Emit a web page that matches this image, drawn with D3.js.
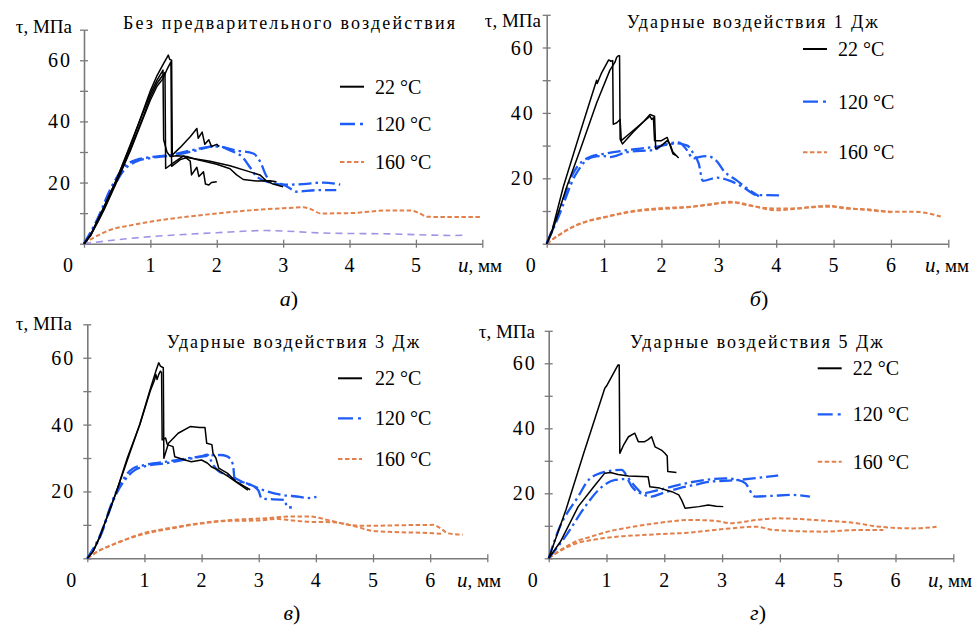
<!DOCTYPE html>
<html>
<head>
<meta charset="utf-8">
<script src="https://cdn.jsdelivr.net/npm/d3@7"></script>
<style>
  html, body { margin: 0; padding: 0; background: #fff; }
  svg text { font-family: "Liberation Serif", "Times New Roman", "DejaVu Serif", serif; }
</style>
</head>
<body>
<svg id="chart" width="978" height="625"></svg>
<script>
// ---- shared labels ----
const yTicks = [0, 10, 20, 30, 40, 50, 60, 70];
const yTickLabels = [20, 40, 60];
const tempLabels = ["22 °C", "120 °C", "160 °C"];
const panelTitles = [
  "Без предварительного воздействия",
  "Ударные воздействия 1 Дж",
  "Ударные воздействия 3 Дж",
  "Ударные воздействия 5 Дж"
];
const panelLetters = ["а", "б", "в", "г"];
const xMax = [6, 7, 7, 7];

// ---- (а) no preliminary impact: [u, мм ; τ, МПа] ----
const a22_1 = [[0,0],[0.1,3],[0.3,12],[0.5,21.5],[0.7,32],[0.9,44],[1.0,50],[1.1,55],[1.2,59],[1.27,61.7],[1.29,60.3],[1.32,60],[1.33,29],[1.45,31.5],[1.6,35],[1.7,37.7],[1.72,34.5],[1.78,36.5],[1.82,32.5],[1.88,34],[1.92,31.8],[2.0,32.5],[2.03,31.8]];
const a22_2 = [[0,0],[0.1,2.8],[0.3,11.5],[0.5,21],[0.7,31],[0.9,42],[1.0,48],[1.1,52.5],[1.2,55.5],[1.22,56],[1.23,24.6],[1.35,26.5],[1.5,28.7],[1.6,27],[1.62,22.5],[1.7,25],[1.73,22],[1.8,23.5],[1.83,19.5],[1.88,19.2],[1.92,20],[2.0,20.3]];
const a22_3 = [[0,0],[0.1,2.8],[0.3,12],[0.5,21.5],[0.7,32.5],[0.9,43.5],[1.0,49],[1.1,53.5],[1.19,56.8],[1.2,34],[1.25,30],[1.3,28.5],[1.4,28.8],[1.55,28.5],[1.7,27.5],[2.0,26],[2.2,24.5],[2.3,22.5],[2.4,21],[2.6,20.5],[2.8,20.6],[2.9,20.3]];
const a22_4 = [[0,0],[0.1,2.6],[0.3,11],[0.5,20.5],[0.7,30.5],[0.9,41.5],[1.0,47],[1.1,51.5],[1.19,54],[1.25,57],[1.31,59.5],[1.32,25.3],[1.45,27.5],[1.55,28.2],[1.9,27],[2.2,25.5],[2.5,23.5],[2.65,22.5],[2.75,20.5],[2.85,19.5],[3.0,18.6]];
const a120_1 = [[0,0],[0.2,8],[0.4,18],[0.6,25],[0.8,27.5],[1.0,28.3],[1.3,29],[1.6,30.5],[2.0,31.8],[2.3,30.5],[2.55,29.5],[2.65,27],[2.75,22],[2.85,19.8],[3.0,19.3],[3.3,19.5],[3.6,20],[3.86,19.3]];
const a120_2 = [[0,0],[0.2,7],[0.4,16.5],[0.6,24],[0.8,27],[1.0,28],[1.3,28.8],[1.6,30],[2.0,32],[2.2,30.5],[2.4,28],[2.5,25],[2.6,22],[2.8,20],[3.0,19.3],[3.15,17.5],[3.2,17],[3.5,17.5],[3.8,17.5]];
const a160_1 = [[0,0],[0.15,2],[0.39,4.5],[0.7,6],[1.0,7.2],[1.5,8.7],[2.0,9.9],[2.5,10.9],[3.0,11.6],[3.3,11.9],[3.45,11],[3.56,9.9],[4.0,10],[4.6,10.9],[4.9,10.9],[5.05,10],[5.17,8.8],[5.6,8.7],[6.0,8.7]];
const a160_2 = [[0,0],[0.5,1.3],[1.0,2.3],[1.5,3],[2.0,3.6],[2.75,4.3],[3.6,3.5],[4.6,3.2],[5.6,2.7],[5.77,2.8]];

// ---- (б) impact 1 J ----
const b22_1 = [[0,0],[0.1,4.5],[0.29,17.4],[0.6,35],[0.87,50],[0.88,49],[0.95,52],[1.08,56.2],[1.12,55.8],[1.15,56],[1.16,36.5],[1.22,37],[1.28,38],[1.3,31.5],[1.4,33],[1.6,36],[1.8,39],[1.83,38],[1.86,38.5],[1.88,31.5],[2.0,31.5],[2.1,32.5],[2.15,30],[2.2,27.5],[2.25,27]];
const b22_2 = [[0,0],[0.1,3.8],[0.35,17.4],[0.6,29.5],[0.87,43],[1.1,53],[1.19,55.5],[1.22,57],[1.25,57.5],[1.27,57.5],[1.28,32],[1.32,30.5],[1.5,34],[1.7,37.5],[1.8,39.5],[1.88,39],[1.9,29],[2.0,30],[2.1,31.5],[2.15,30.5],[2.2,28],[2.3,26.2]];
const b120_1 = [[0,0],[0.2,9],[0.46,21.5],[0.76,26.6],[1.0,27.5],[1.35,28.5],[1.92,29.7],[2.27,30.7],[2.45,30],[2.56,27.5],[2.65,24.5],[2.72,19.2],[2.97,20.2],[3.2,19.2],[3.45,17],[3.66,14.9],[4.05,14.8]];
const b120_2 = [[0,0],[0.2,8],[0.5,21],[0.8,26.5],[1.0,26.8],[1.1,26.5],[1.4,28],[1.9,28.8],[2.0,30],[2.3,31],[2.45,28.5],[2.55,26],[2.65,26.5],[2.8,26.8],[2.95,25.5],[3.1,22],[3.3,19.5],[3.5,16.8],[3.7,14.5]];
const b160_1 = [[0,0],[0.2,2.5],[0.46,5.2],[0.76,7.2],[1.05,8.3],[1.34,9.5],[1.92,10.8],[2.5,11.3],[2.79,11.8],[3.2,12.8],[3.49,11.8],[3.95,10.8],[4.3,10.8],[4.8,11.3],[5.0,11.3],[5.4,10.6],[6.0,9.8],[6.4,9.8],[6.87,8.3]];
const b160_2 = [[0,0],[0.2,2.5],[0.5,5.5],[1.0,8.0],[1.5,9.8],[2.0,10.6],[2.5,11.2],[3.0,12.4],[3.3,12.6],[3.6,11.5],[4.0,10.2],[4.4,10.8],[4.9,11.6],[5.2,10.8],[5.6,10.5],[6.0,9.6]];

// ---- (в) impact 3 J ----
const c22_1 = [[0,0],[0.1,2],[0.22,6.5],[0.51,19.9],[0.7,30],[0.92,40],[1.1,50],[1.18,53.5],[1.2,55],[1.22,53.5],[1.25,55],[1.28,56],[1.3,55.5],[1.31,35.4],[1.37,36],[1.4,34],[1.5,33.4],[1.53,30.4],[1.71,29.4],[1.82,28.9],[2.0,29.4],[2.1,28.5],[2.17,27.4],[2.29,26.4],[2.47,24.4],[2.64,22.4],[2.81,20.4]];
const c22_2 = [[0,0],[0.1,2],[0.22,6.5],[0.51,20],[0.92,40.2],[1.1,50.5],[1.2,56],[1.25,58.5],[1.28,57.5],[1.33,57],[1.34,29.9],[1.42,34.4],[1.59,37.4],[1.8,39.4],[1.97,39.1],[2.06,39.1],[2.09,34.4],[2.18,34],[2.2,31.4],[2.25,30],[2.3,27],[2.45,25.5],[2.6,23],[2.75,21.5],[2.85,20.5]];
const c120_1 = [[0,0],[0.2,6],[0.51,20],[0.8,26.9],[1.0,27.9],[1.39,28.9],[1.97,30.4],[2.32,30.9],[2.45,30.5],[2.55,28],[2.58,23.4],[2.79,22.4],[3.08,20.4],[3.43,18.9],[3.72,18.4],[3.85,18],[4.01,18.4]];
const c120_2 = [[0,0],[0.2,5.5],[0.5,19],[0.8,26],[1.0,27.5],[1.4,28.5],[1.7,29.5],[2.0,30.5],[2.1,31],[2.2,28],[2.3,26],[2.47,24.9],[2.7,23],[2.99,20.4],[3.05,17.9],[3.46,17.4],[3.49,15.4],[3.58,15.2]];
const c160_1 = [[0,0],[0.2,2.2],[0.51,4.5],[0.98,7.5],[1.5,9.2],[1.97,10.5],[2.55,11.5],[3.14,12],[3.54,12.5],[3.89,12.5],[4.2,11.5],[4.59,10],[4.88,9.7],[5.5,9.9],[6.05,10],[6.22,8.5],[6.3,7.5],[6.57,7.1]];
const c160_2 = [[0,0],[0.2,2.2],[0.5,4.5],[1.0,7.3],[1.5,9.0],[2.0,10.4],[2.5,11.2],[3.0,11.3],[3.3,11.8],[3.6,11.3],[3.9,10.9],[4.3,10.8],[4.7,9.5],[5.0,8.2],[5.5,7.8],[6.05,7.5],[6.2,7.3]];

// ---- (г) impact 5 J ----
const d22_1 = [[0,0],[0.3,15],[0.6,32],[0.97,52.3],[1.0,53],[1.2,59.5],[1.22,59.5],[1.23,32.3],[1.3,35],[1.38,37.4],[1.49,38.5],[1.55,35.9],[1.66,35.9],[1.72,36.5],[1.78,37.4],[1.84,34.3],[1.95,33.3],[2.01,32.3],[2.05,31.5],[2.06,26.7],[2.21,26.4]];
const d22_2 = [[0,0],[0.2,5],[0.51,15.9],[0.8,22.5],[0.97,26.2],[1.07,26.4],[1.2,25.8],[1.38,25.3],[1.72,25.1],[1.75,22],[1.92,21.6],[2.13,20.5],[2.25,19.5],[2.3,17.9],[2.36,15.4],[2.6,15.9],[2.76,16.4],[2.9,16],[3.02,15.9]];
const d120_1 = [[0,0],[0.17,8.7],[0.51,19],[0.69,24.1],[0.97,26.6],[1.1,27],[1.26,27.2],[1.38,24.6],[1.5,22],[1.61,20],[1.78,19],[1.96,20],[2.25,21.5],[2.5,22.5],[2.82,23.6],[3.2,24],[3.5,24.5],[3.97,25.5]];
const d120_2 = [[0,0],[0.3,7],[0.63,15.9],[0.86,21],[1.15,24.1],[1.35,24.4],[1.44,22],[1.61,20],[1.9,21],[2.25,22.6],[2.7,24.1],[3.05,24.6],[3.25,24.2],[3.4,23.1],[3.57,19],[3.85,19.2],[4.2,19.5],[4.52,19]];
const d160_1 = [[0,0],[0.2,2.5],[0.51,5.5],[0.7,6.5],[1.09,8.5],[1.29,9.2],[1.87,10.8],[2.44,11.8],[2.9,11.5],[3.14,10.8],[3.6,11.8],[3.94,12.3],[4.75,11.6],[5.33,10.8],[5.68,9.8],[6.31,9.2],[6.71,9.7]];
const d160_2 = [[0,0],[0.2,2.3],[0.51,4.8],[0.7,5.5],[1.09,6.5],[1.29,6.8],[1.87,7.4],[2.44,7.9],[3.02,9.0],[3.6,9.7],[3.89,8.7],[4.75,8.2],[5.33,8.7],[5.79,8.7]];

// ---- styles per series kind ----
const styles = {
  t22:  { color: "#000000", width: 1.5, dash: null, curve: d3.curveLinear },
  t120: { color: "#1d5cf5", width: 2.3, dash: "13,4,2.5,4", curve: d3.curveMonotoneX },
  t160: { color: "#e2804c", width: 2.0, dash: "4.5,2.5", curve: d3.curveMonotoneX },
  aux:  { color: "#9f93e6", width: 1.6, dash: "7,5", curve: d3.curveMonotoneX }
};
const legendKinds = ["t22", "t120", "t160"];
const FONT = "Liberation Serif, Times New Roman, DejaVu Serif, serif";

// ---- panel layout ----
const panels = [
  { x: [84, 482.3],    y: [243.7, 29.7],  series: [["t160", a160_1], ["aux", a160_2], ["t120", a120_1], ["t120", a120_2], ["t22", a22_1], ["t22", a22_2], ["t22", a22_3], ["t22", a22_4]],
    title: { x: 123, y: 29, w: 332 }, yLabel: { x: 72, y: 33 }, uLabel: { x: 458, y: 272 }, tickY: 272,
    legend: { x: 340, text: 375, ys: [86.7, 124, 162] }, caption: { x: 289, y: 306 } },
  { x: [546.7, 948.3], y: [243.7, 14.8],  series: [["t160", b160_1], ["t160", b160_2], ["t120", b120_1], ["t120", b120_2], ["t22", b22_1], ["t22", b22_2]],
    title: { x: 626.7, y: 28, w: 251 }, yLabel: { x: 541, y: 27 }, uLabel: { x: 925, y: 272 }, tickY: 272,
    legend: { x: 803, text: 838, ys: [49, 101.7, 152.3] }, caption: { x: 759, y: 306 } },
  { x: [87.3, 487.3],  y: [558.3, 324.3], series: [["t160", c160_1], ["t160", c160_2], ["t120", c120_1], ["t120", c120_2], ["t22", c22_1], ["t22", c22_2]],
    title: { x: 166.7, y: 348, w: 252.6 }, yLabel: { x: 72, y: 330 }, uLabel: { x: 457, y: 587 }, tickY: 587,
    legend: { x: 338, text: 375, ys: [378.3, 418.3, 459] }, caption: { x: 292, y: 620 } },
  { x: [548.7, 953.3], y: [558.3, 330.8], series: [["t160", d160_1], ["t160", d160_2], ["t120", d120_1], ["t120", d120_2], ["t22", d22_1], ["t22", d22_2]],
    title: { x: 630, y: 348, w: 252.7 }, yLabel: { x: 535, y: 338 }, uLabel: { x: 928, y: 587 }, tickY: 587,
    legend: { x: 817.7, text: 852.7, ys: [368.3, 414.3, 461.7] }, caption: { x: 758, y: 620 } }
];

const svg = d3.select("#chart");
const axisColor = "#7a7a7a";

panels.forEach((p, i) => {
  const xs = d3.scaleLinear().domain([0, xMax[i]]).range(p.x);
  const ys = d3.scaleLinear().domain([0, 70]).range(p.y);
  const g = svg.append("g").attr("font-family", FONT);

  // x axis: ticks cross the line
  const xTickVals = d3.range(0, xMax[i] + 1);
  const xa = g.append("g").attr("transform", `translate(0,${p.y[0]})`)
    .call(d3.axisBottom(xs).tickValues(xTickVals).tickSizeOuter(0).tickSizeInner(4).tickFormat(""));
  xa.select(".domain").attr("stroke", axisColor).attr("stroke-width", 1.6);
  xa.selectAll(".tick line").attr("stroke", axisColor).attr("stroke-width", 1.3).attr("y1", -4).attr("y2", 4);

  // y axis
  const ya = g.append("g").attr("transform", `translate(${p.x[0]},0)`)
    .call(d3.axisLeft(ys).tickValues(yTicks).tickSizeOuter(0).tickSizeInner(4).tickFormat(""));
  ya.select(".domain").attr("stroke", axisColor).attr("stroke-width", 1.6);
  ya.selectAll(".tick line").attr("stroke", axisColor).attr("stroke-width", 1.3).attr("x1", 4).attr("x2", -4);

  // tick labels (the last x tick carries the axis title instead)
  const xLabelVals = xTickVals.filter(v => v < xMax[i]);
  g.selectAll(".xl").data(xLabelVals).enter().append("text")
    .attr("font-family", FONT)
    .attr("x", d => d === 0 ? xs(0) - 16 : xs(d))
    .attr("y", p.tickY)
    .attr("text-anchor", "middle")
    .attr("font-size", 20)
    .text(d => d);
  g.selectAll(".yl").data(yTickLabels).enter().append("text")
    .attr("font-family", FONT)
    .attr("x", xs(0) - 12)
    .attr("y", d => ys(d))
    .attr("dy", "0.35em")
    .attr("text-anchor", "end")
    .attr("font-size", 20)
    .attr("letter-spacing", 2)
    .text(d => d);

  // axis titles
  g.append("text").attr("font-family", FONT).attr("x", p.yLabel.x).attr("y", p.yLabel.y)
    .attr("text-anchor", "end").attr("font-size", 19).text("τ, МПа");
  const ut = g.append("text").attr("font-family", FONT).attr("x", p.uLabel.x).attr("y", p.uLabel.y).attr("font-size", 19);
  ut.append("tspan").attr("font-style", "italic").attr("font-size", 21).text("u");
  ut.append("tspan").text(", мм");

  // panel title
  g.append("text").attr("font-family", FONT).attr("x", p.title.x).attr("y", p.title.y)
    .attr("font-size", 18)
    .attr("textLength", p.title.w).attr("lengthAdjust", "spacing")
    .text(panelTitles[i]);

  // curves
  p.series.forEach(([kind, data]) => {
    const st = styles[kind];
    const line = d3.line().x(d => xs(d[0])).y(d => ys(d[1])).curve(st.curve);
    g.append("path").datum(data)
      .attr("d", line)
      .attr("fill", "none")
      .attr("stroke", st.color)
      .attr("stroke-width", st.width)
      .attr("stroke-dasharray", st.dash)
      .attr("stroke-linejoin", "round");
  });

  // legend
  legendKinds.forEach((kind, k) => {
    const st = styles[kind];
    const ly = p.legend.ys[k];
    g.append("line").attr("x1", p.legend.x).attr("x2", p.legend.x + 24)
      .attr("y1", ly).attr("y2", ly)
      .attr("stroke", st.color).attr("stroke-width", kind === "t22" ? 2 : st.width)
      .attr("stroke-dasharray", kind === "t120" ? "15,5,3,5" : st.dash);
    g.append("text").attr("font-family", FONT).attr("x", p.legend.text).attr("y", ly).attr("dy", "0.35em")
      .attr("font-size", 20).text(tempLabels[k]);
  });

  // caption
  const cap = g.append("text").attr("font-family", FONT).attr("x", p.caption.x).attr("y", p.caption.y)
    .attr("text-anchor", "middle").attr("font-size", 22);
  cap.append("tspan").attr("font-style", "italic").text(panelLetters[i]);
  cap.append("tspan").text(")");
});
</script>
</body>
</html>
